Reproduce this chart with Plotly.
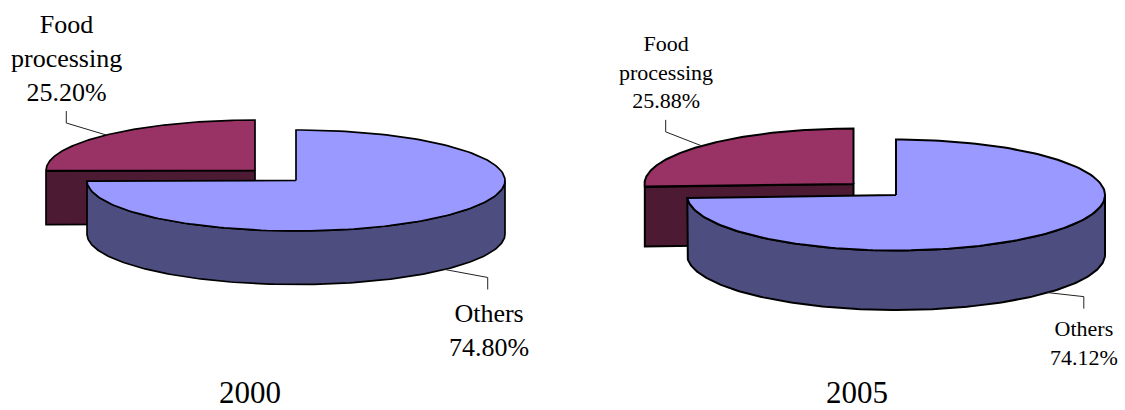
import numpy as np
import plotly.graph_objects as go

# Shares of manufacturing, in percent
years = ["2000", "2005"]
categories = ["Food processing", "Others"]
food_share = [25.20, 25.88]
others_share = [74.80, 74.12]

FOOD_TOP, FOOD_SIDE = "#993366", "#4D1A33"
OTHERS_TOP, OTHERS_SIDE = "#9999FF", "#4D4D80"
SERIF = "Liberation Serif, Times New Roman, serif"

# Placement of each tilted pie on the canvas, in pixels
pies = [
    dict(rx=209, ry=50.5, depth=53.5, others_c=(296, 180.5), food_c=(255, 170.5), edge=1.7,
         font=26, title_xy=(250, 392), title_font=31,
         food_label=(66, 58), others_label=(489, 330),
         food_elbow=(-40, -12), others_elbow=(43, 8), stub=12),
    dict(rx=209, ry=55.5, depth=59.5, others_c=(896, 195), food_c=(853.5, 184), edge=2,
         font=22, title_xy=(857, 392), title_font=31,
         food_label=(666, 72), others_label=(1084, 343),
         food_elbow=(-36, -14), others_elbow=(36, 4), stub=12),
]


def rim(c, rx, ry, start, stop, n=180, drop=0.0):
    """Points on the pie rim; angles run clockwise from twelve o'clock."""
    t = np.radians(np.linspace(start, stop, n))
    return c[0] + rx * np.sin(t), c[1] - ry * np.cos(t) + drop


def poly(fig, x, y, fill, edge):
    fig.add_trace(go.Scatter(
        x=x, y=y, mode="lines", fill="toself", fillcolor=fill,
        line=dict(color="black", width=edge), hoverinfo="skip", showlegend=False,
    ))


def leader(fig, x, y):
    fig.add_trace(go.Scatter(
        x=x, y=y, mode="lines", line=dict(color="#222222", width=1),
        hoverinfo="skip", showlegend=False,
    ))


def note(fig, xy, text, size):
    fig.add_annotation(x=xy[0], y=xy[1], xref="x", yref="y", text=text, showarrow=False,
                       align="center", xanchor="center", yanchor="middle",
                       font=dict(family=SERIF, size=size, color="black"))


fig = go.Figure()

for year, food, others, p in zip(years, food_share, others_share, pies):
    rx, ry, d, edge = p["rx"], p["ry"], p["depth"], p["edge"]
    split = others / (food + others) * 360.0
    oc, fc = p["others_c"], p["food_c"]

    # Food processing: cut wall, then top
    tx, ty = rim(fc, rx, ry, split, split, n=1)
    poly(fig, [tx[0], fc[0], fc[0], tx[0], tx[0]],
         [ty[0], fc[1], fc[1] + d, ty[0] + d, ty[0]], FOOD_SIDE, edge)
    ax, ay = rim(fc, rx, ry, split, 360)
    poly(fig, [fc[0], *ax, fc[0]], [fc[1], *ay, fc[1]], FOOD_TOP, edge)

    # Others: outer wall along the front half, then top
    wx, wy = rim(oc, rx, ry, 90, split)
    bx, by = rim(oc, rx, ry, split, 90, drop=d)
    poly(fig, [*wx, *bx, wx[0]], [*wy, *by, wy[0]], OTHERS_SIDE, edge)
    ax, ay = rim(oc, rx, ry, 0, split)
    poly(fig, [oc[0], *ax, oc[0]], [oc[1], *ay, oc[1]], OTHERS_TOP, edge)

    # Leader lines start at the middle of each slice's rim
    mx, my = rim(fc, rx, ry, (split + 360) / 2, (split + 360) / 2, n=1)
    elbow_x, elbow_y = mx[0] + p["food_elbow"][0], my[0] + p["food_elbow"][1]
    leader(fig, [mx[0], elbow_x, elbow_x], [my[0], elbow_y, elbow_y - p["stub"]])
    mx, my = rim(oc, rx, ry, split / 2, split / 2, n=1, drop=d)
    elbow_x, elbow_y = mx[0] + p["others_elbow"][0], my[0] + p["others_elbow"][1]
    leader(fig, [mx[0], elbow_x, elbow_x], [my[0], elbow_y, elbow_y + p["stub"]])

    note(fig, p["food_label"], f"Food<br>processing<br>{food:.2f}%", p["font"])
    note(fig, p["others_label"], f"Others<br>{others:.2f}%", p["font"])
    note(fig, p["title_xy"], year, p["title_font"])

fig.update_layout(
    width=1125, height=410, margin=dict(l=0, r=0, t=0, b=0),
    paper_bgcolor="white", plot_bgcolor="white",
    xaxis=dict(range=[0, 1125], visible=False, fixedrange=True),
    yaxis=dict(range=[410, 0], visible=False, fixedrange=True),
)

fig.write_html("out.html", config=dict(displayModeBar=False))
